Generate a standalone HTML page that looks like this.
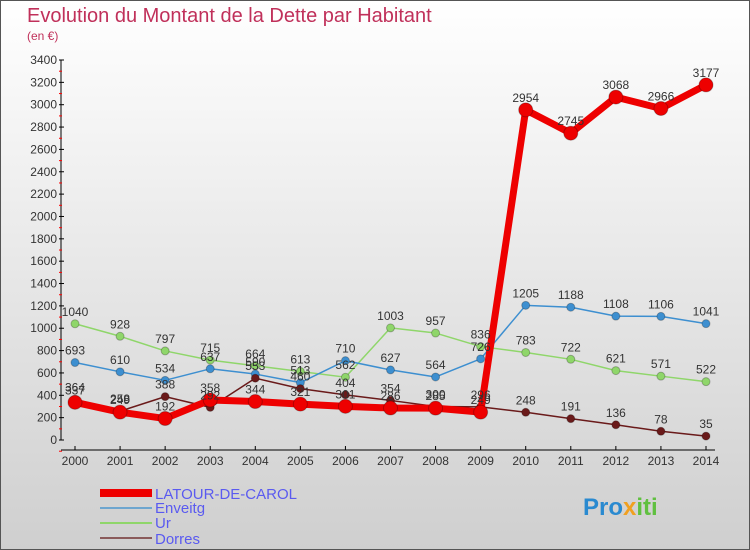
<!DOCTYPE html>
<html><head><meta charset="utf-8"><style>
body{margin:0;}
#wrap{width:750px;height:550px;position:relative;overflow:hidden;font-family:"Liberation Sans",sans-serif;}
</style></head><body>
<div id="wrap">
<svg id="chart" width="750" height="550" xmlns="http://www.w3.org/2000/svg">
<defs><linearGradient id="bg" x1="0" y1="0" x2="0" y2="1"><stop offset="0" stop-color="#ffffff"/><stop offset="1" stop-color="#cfcfcf"/></linearGradient></defs>
<rect x="0.5" y="0.5" width="749" height="549" fill="url(#bg)" stroke="#555"/>
<text x="27" y="22" font-size="20" fill="#c0305a">Evolution du Montant de la Dette par Habitant</text>
<text x="27" y="40" font-size="12" fill="#c0305a">(en €)</text>
<g id="axes"></g><g id="series"></g><g id="labels"></g>
<g>
<rect x="100" y="489" width="52" height="8" fill="#ee0000"/>
<text x="155" y="499" font-size="15" fill="#5a5af0">LATOUR-DE-CAROL</text>
<rect x="100" y="507" width="52" height="2" fill="#6ea6cf"/>
<text x="155" y="513" font-size="15" fill="#5a5af0">Enveitg</text>
<rect x="100" y="522" width="52" height="2" fill="#8fd66a"/>
<text x="155" y="528" font-size="15" fill="#5a5af0">Ur</text>
<rect x="100" y="537" width="52" height="2" fill="#8a5a5a"/>
<text x="155" y="544" font-size="15" fill="#5a5af0">Dorres</text>
</g>
<text x="583" y="515" font-size="24" font-weight="bold" fill="#2a8ad0">Pro<tspan fill="#f0a020">x</tspan><tspan fill="#60c040">iti</tspan></text>
</svg>
</div>
<script>
const years=[2000,2001,2002,2003,2004,2005,2006,2007,2008,2009,2010,2011,2012,2013,2014];
const latour=[337,249,192,358,344,321,301,286,285,249,2954,2745,3068,2966,3177];
const enveitg=[693,610,534,637,590,513,710,627,564,726,1205,1188,1108,1106,1041];
const ur=[1040,928,797,715,664,613,562,1003,957,836,783,722,621,571,522];
const dorres=[364,258,388,292,553,460,404,354,300,296,248,191,136,78,35];
const yTicks=[0,200,400,600,800,1000,1200,1400,1600,1800,2000,2200,2400,2600,2800,3000,3200,3400];
const NS="http://www.w3.org/2000/svg";
function X(i){return 75+i*(706-75)/(years.length-1);}
function Y(v){return 440-v*(380/3400);}
function mk(tag,attrs,parent){const e=document.createElementNS(NS,tag);for(const k in attrs)e.setAttribute(k,attrs[k]);parent.appendChild(e);return e;}
const axes=document.getElementById('axes');
let a=mk('line',{x1:61,y1:60,x2:61,y2:440,stroke:'#000'},axes);


let b=mk('line',{x1:61,y1:450,x2:715,y2:450,stroke:'#000'},axes);


yTicks.forEach(v=>{
 const y=Y(v);
 mk('line',{x1:59,y1:y,x2:64,y2:y,stroke:'#000'},axes);
 mk('line',{x1:59,y1:y+11.2,x2:62,y2:y+11.2,stroke:'#f00'},axes);
 const t=mk('text',{x:57,y:y+4,'font-size':12,'text-anchor':'end',fill:'#333'},axes);
 t.textContent=v;
 
 
});
years.forEach((yr,i)=>{
 mk('line',{x1:X(i),y1:446,x2:X(i),y2:450,stroke:'#000'},axes);
 const t=mk('text',{x:X(i),y:465,'font-size':12,'text-anchor':'middle',fill:'#333'},axes);
 t.textContent=yr;
 
 
});
const ser=document.getElementById('series'),lab=document.getElementById('labels');
function draw(vals,color,w,r,name){
 const p=mk('polyline',{points:vals.map((v,i)=>X(i)+','+Y(v)).join(' '),fill:'none',stroke:color,'stroke-width':w,'stroke-linejoin':'round'},ser);
 
 
 vals.forEach((v,i)=>{
  const c=mk('circle',{cx:X(i),cy:Y(v),r:r,fill:color,stroke:'rgba(0,0,0,0.25)'},ser);
  
  
  const t=mk('text',{x:X(i),y:Y(v)-8,'font-size':12,'text-anchor':'middle',fill:'#333'},lab);
  t.textContent=v;
  
  
 });
}
draw(ur,'#8fd66a',1.5,4,'ur');
draw(enveitg,'#3d8fd0',1.5,4,'enveitg');
draw(dorres,'#6a1a1a',1.5,4,'dorres');
draw(latour,'#ee0000',7,7,'latour');
</script>
</body></html>
